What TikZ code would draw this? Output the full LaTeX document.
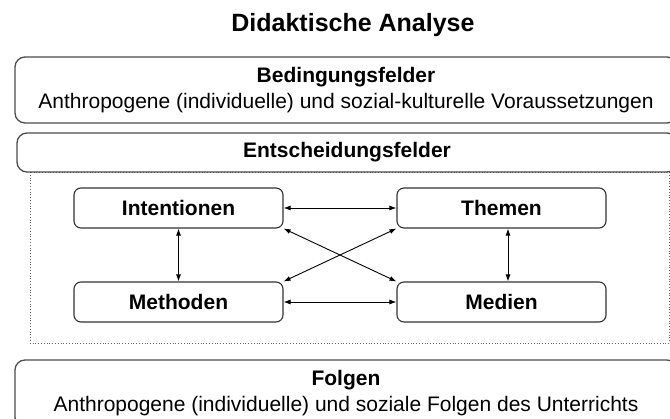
\documentclass[tikz,border=0pt]{standalone}
\usepackage{fontspec}
\setmainfont{Liberation Sans}
\usetikzlibrary{arrows.meta}

\begin{document}
\begin{tikzpicture}[x=1pt,y=-1pt,
    feld/.style={draw=black!70,line width=1.3pt,rounded corners=10pt,align=center,inner sep=0pt,font=\fontsize{21}{26}\selectfont},
    box/.style={draw=black!80,line width=1.1pt,rounded corners=7pt,minimum width=209pt,minimum height=40pt,inner sep=0pt,font=\fontsize{21}{26}\selectfont\bfseries},
    pfeil/.style={{Latex[length=7pt,width=5pt]}-{Latex[length=7pt,width=5pt]},line width=0.9pt}]

    \useasboundingbox (0,0) rectangle (670,419);
    \clip (0,0) rectangle (670,419);

    \node[font=\fontsize{25}{30}\selectfont\bfseries] (titel) at (353,25) {Didaktische Analyse}; % title

    \draw[black!60,dotted,line width=0.8pt] (30,172) rectangle (669,343); % frame

    \node[feld,minimum width=662pt,minimum height=66pt] (bed) at (346,90) {\textbf{Bedingungsfelder}\\Anthropogene (individuelle) und sozial-kulturelle Voraussetzungen};
    \node[feld,minimum width=660pt,minimum height=39pt] (ent) at (347,152.5) {\textbf{Entscheidungsfelder}};
    \node[feld,minimum width=662pt,minimum height=67pt] (fol) at (346,393.5) {\textbf{Folgen}\\Anthropogene (individuelle) und soziale Folgen des Unterrichts};

    \node[box] (int) at (178.5,208) {Intentionen}; % felső
    \node[box] (the) at (501.5,208) {Themen}; % felső
    \node[box] (met) at (178.5,302) {Methoden}; % alsó
    \node[box] (med) at (501.5,302) {Medien}; % alsó

    \draw[pfeil] (int) -- (the);
    \draw[pfeil] (met) -- (med);
    \draw[pfeil] (int) -- (met);
    \draw[pfeil] ([xshift=6.5pt]the.south) -- ([xshift=6.5pt]med.north);
    \draw[pfeil] (int.south east) -- (med.north west); % kereszt
    \draw[pfeil] (the.south west) -- (met.north east); % kereszt

\end{tikzpicture}
\end{document}
